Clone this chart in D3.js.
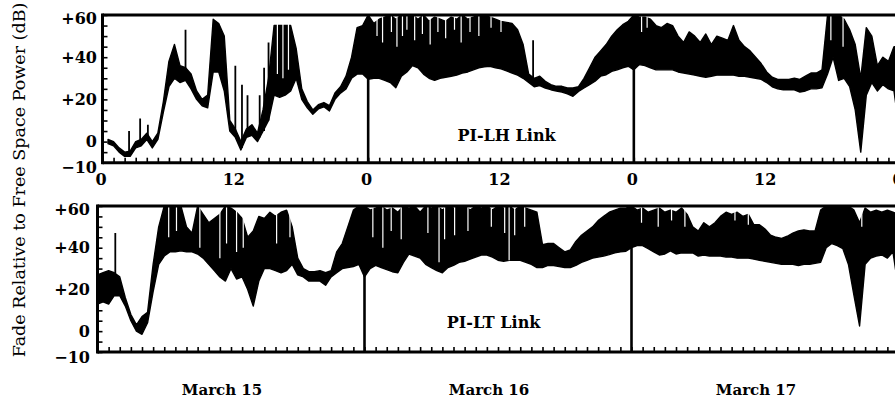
<!DOCTYPE html>
<html>
<head>
<meta charset="utf-8">
<script src="https://cdn.jsdelivr.net/npm/d3@7"></script>
<style>
  body { margin: 0; background: #fff; }
  svg { display: block; }
  text { font-family: "DejaVu Serif", "Liberation Serif", serif; fill: #000; }
</style>
</head>
<body>
<div id="chart"></div>
<script>
// time axis: samples every half hour, 0..72 h (March 15 00:00 -> March 18 00:00)
var STEP = 0.5;
var hours = d3.range(0, 72 + STEP / 2, STEP);
var dayBreaks = [24, 48];
var hourLabels = [0, 12, 24, 36, 48, 60, 72];
var dbTicks = d3.range(-10, 61, 5);
var dbLabels = [-10, 0, 20, 40, 60];
var dayNames = ["March 15", "March 16", "March 17"];

// PI-LH link, lower / upper envelope of the fade trace (dB)
var lhLow15 = [null, -1, -2, -5, -7, -7, -3, -2, 1, -3, 1, 14, 26, 30, 28, 29, 25, 20, 17, 16, 33, 33, 24, 5, 2, -4, 2, 3, 0, 5, 10, 22, 21, 22, 24, 30, 20, 16, 13, 15.5, 16.5, 14.5, 20, 23, 25, 30, 32, 32];
var lhHigh15 = [null, 1, 0, -3, -5, -4.5, 0, 1, 4, 0, 4, 19, 38, 46, 36, 35, 32, 24, 20, 22, 58, 56, 50, 10, 6, 0, 6, 8, 4, 15, 30, 55, 55, 55, 55, 44, 25, 19, 15, 17.5, 18.5, 17, 23, 26, 31, 40, 54, 55];
var lhLow16 = [29.5, 30, 30, 29, 28, 25.5, 31, 33, 36, 35, 32, 30, 29, 30, 30.5, 31, 31.5, 32.5, 33, 34, 35, 35.5, 35.7, 35, 34.5, 33.5, 32.5, 31.5, 30, 28, 26, 26.5, 25.4, 24.6, 24, 23.5, 22.6, 21.5, 23.8, 25.4, 27, 28.6, 31, 31.7, 33.3, 34, 35, 35.7];
var lhHigh16 = [60, 56, 58, 59, 60, 58, 60, 59, 60, 58, 60, 57, 59, 58, 57, 59, 58, 60, 58, 59, 60, 60, 59, 58, 57, 56.5, 56, 53, 46, 32, 30, 31, 28.6, 27, 26.2, 26.2, 25.4, 25.4, 26, 30, 35, 40, 43, 46, 50, 53, 55.4, 57];
var lhLow17 = [34, 36.5, 36, 35, 34, 34, 34, 34, 33, 32.5, 32, 31.5, 31, 30.5, 31, 31.5, 31.5, 31.5, 31.5, 31, 31, 30.5, 30, 29.5, 28, 26, 25, 24.5, 24.5, 24.5, 23.5, 24, 25, 25, 25.5, 32, 40, 29, 30, 26, 15, -5, 22, 28, 24, 27, 25, 24, 5];
var lhHigh17 = [60, 59, 59, 58, 55, 54, 56, 55, 50, 47, 52, 50, 47, 51, 46, 50, 49, 48, 55, 48, 45, 43, 40, 37, 33, 30.5, 29.5, 29.5, 29.5, 30, 29.5, 31, 32.5, 32.5, 34, 60, 60, 60, 58, 53, 46, 30, 54, 50, 36, 40, 38, 45, 45];
// isolated spikes [hour, from dB, to dB] and white dropouts inside the band
var lhSpikes = [[2.4, -6, 5], [3.4, -1, 11], [4.1, 1, 8], [7.5, 33, 53], [12.0, 4, 36], [12.6, -3, 27], [13.1, 3, 22], [14.2, 2, 22], [14.6, 5, 35], [15.0, 10, 47], [38.9, 28, 48]];
var lhGaps = [[15.8, 56, 32], [16.3, 56, 30], [16.8, 56, 34],
    [24.8, 60, 50], [25.3, 60, 47], [26.1, 60, 52], [26.6, 60, 45], [27.1, 60, 50], [27.5, 60, 53], [28.2, 60, 48], [28.9, 60, 51],
    [29.6, 60, 46], [30.3, 60, 52], [31.0, 60, 49], [31.8, 60, 53], [32.4, 60, 47], [33.2, 60, 52], [34.0, 60, 50], [35.1, 60, 54], [36.0, 60, 52],
    [48.7, 60, 52], [49.2, 60, 54], [65.8, 60, 48], [66.9, 60, 45]];

// PI-LT link
var ltLow15 = [13, 14, 13, 17, 17, 12, 5, 0, -1.5, 4, 19, 32, 36, 38, 38, 38.5, 38, 38, 37, 35, 32, 29, 26, 24, 30, 25, 26, 20, 12, 24, 30, 30, 29, 28, 29, 32, 27, 26, 24, 24, 24, 22, 26, 28, 30, 30.5, 31, 32];
var ltHigh15 = [27, 28, 29, 28, 26, 16, 8, 3, 7, 9, 32, 50, 60, 60, 60, 60, 50, 47, 60, 56, 52, 54, 56, 60, 59, 57, 54, 45, 48, 55, 54, 57, 55, 57, 58, 50, 35, 30, 28.5, 28.5, 29, 28, 29, 38, 42, 50, 58, 60];
var ltLow16 = [26, 30, 31.5, 30.5, 29.5, 28.5, 28, 33, 37, 36, 35, 32, 30.5, 29, 28, 30.5, 31.5, 33, 33.5, 34.5, 35.5, 36.5, 36.5, 35.5, 34, 33.5, 34, 34, 34, 33, 32, 30.5, 30.5, 31.5, 31.5, 31, 30.5, 30.5, 31.5, 33, 34, 35, 35.5, 36, 36.7, 37.5, 38, 38.3];
var ltHigh16 = [60, 58, 59, 60, 58, 59, 57, 60, 59, 60, 57, 60, 59, 60, 58, 60, 59, 60, 60, 58, 60, 59, 60, 58, 60, 59, 60, 58, 60, 59, 58, 57, 41.5, 42, 42, 40, 38, 39, 43, 46, 48, 50, 53, 55, 57, 58, 59, 59];
var ltLow17 = [40, 41, 41, 39.5, 38, 36.5, 37, 38.5, 37, 37.5, 37.5, 37.5, 36, 36.5, 36, 36, 36, 35.5, 35.5, 35, 35, 35, 34.5, 34, 33.5, 33, 32.5, 32, 32, 32, 31.5, 32, 32, 32.5, 33, 40, 42, 41, 39.5, 32, 17, 2.5, 32, 35, 36, 36.5, 35, 38, 20];
var ltHigh17 = [60, 58, 59, 57, 58, 59, 57, 58, 57, 59, 56, 50, 48, 52, 50, 52, 55, 57, 56, 57, 55, 56, 51, 51, 49, 46, 45, 44.5, 45.5, 47, 48, 48.5, 48, 48, 58, 60, 60, 60, 60, 60, 58, 52, 59, 57, 58, 57, 58, 57, 56];
var ltSpikes = [[1.6, 20, 47]];
var ltGaps = [[6.4, 60, 45], [7.1, 60, 48], [9.2, 60, 40], [11.0, 60, 35], [11.6, 60, 42], [12.5, 60, 38], [13.1, 60, 40], [16.1, 60, 42], [17.3, 60, 45],
    [24.75, 60, 45], [25.65, 60, 40], [26.4, 60, 48], [27.3, 60, 44], [29.7, 60, 47], [30.7, 60, 33], [31.2, 60, 44], [32.1, 60, 46],
    [33.3, 60, 48], [35.4, 60, 50], [36.6, 60, 47], [37.0, 60, 34], [37.5, 60, 46], [38.4, 60, 50],
    [48.9, 60, 52], [50.4, 60, 50], [51.6, 60, 53], [52.8, 60, 50], [57.3, 60, 53], [58.5, 60, 51], [68.7, 60, 50]];

var W = 895, H = 401;
var svg = d3.select("#chart").append("svg").attr("width", W).attr("height", H);

var panels = [
    { id: "lh", name: "PI-LH Link", lo: [].concat(lhLow15, lhLow16, lhLow17), hi: [].concat(lhHigh15, lhHigh16, lhHigh17),
      spikes: lhSpikes, gaps: lhGaps,
      left: 102.5, right: 899.5, top: 15, bottom: 162.7, labelRight: 97, hourAxis: true, nameAt: [36.5, 3] },
    { id: "lt", name: "PI-LT Link", lo: [].concat(ltLow15, ltLow16, ltLow17), hi: [].concat(ltHigh15, ltHigh16, ltHigh17),
      spikes: ltSpikes, gaps: ltGaps,
      left: 97.5, right: 898.5, top: 206, bottom: 352, labelRight: 90, hourAxis: false, nameAt: [35.6, 4.4] }
];

panels.forEach(function (p) {
    var x = d3.scaleLinear().domain([0, 72]).range([p.left, p.right]);
    var y = d3.scaleLinear().domain([-10, 60]).range([p.bottom, p.top]);
    var g = svg.append("g").attr("class", "panel-" + p.id);
    var clip = "url(#clip-" + p.id + ")";

    g.append("clipPath").attr("id", "clip-" + p.id)
        .append("rect").attr("x", p.left).attr("y", p.top).attr("width", W - p.left).attr("height", p.bottom - p.top);

    var band = d3.area()
        .defined(function (d, i) { return p.lo[i] != null; })
        .x(function (d) { return x(d); })
        .y0(function (d, i) { return y(p.lo[i]); })
        .y1(function (d, i) { return y(p.hi[i]); });

    g.append("path").datum(hours)
        .attr("d", band)
        .attr("clip-path", clip)
        .attr("fill", "#000").attr("stroke", "#000")
        .attr("stroke-width", 1.4).attr("stroke-linejoin", "round");

    g.append("g").attr("clip-path", clip)
        .selectAll("line").data(p.spikes).enter().append("line")
        .attr("x1", function (d) { return x(d[0]); }).attr("x2", function (d) { return x(d[0]); })
        .attr("y1", function (d) { return y(d[1]); }).attr("y2", function (d) { return y(d[2]); })
        .attr("stroke", "#000").attr("stroke-width", 1.8);

    // white dropouts in the saturated parts of the trace
    g.append("g").attr("clip-path", clip)
        .selectAll("line").data(p.gaps).enter().append("line")
        .attr("x1", function (d) { return x(d[0]); }).attr("x2", function (d) { return x(d[0]); })
        .attr("y1", function (d) { return y(d[1]); }).attr("y2", function (d) { return y(d[2]); })
        .attr("stroke", "#fff").attr("stroke-width", 1.2);

    // hourly ticks along the bottom, pointing inward
    var xt = g.append("g").attr("transform", "translate(0," + p.bottom + ")")
        .call(d3.axisBottom(x).tickValues(d3.range(0, 73, 1)).tickSize(-5).tickFormat(""));
    xt.select(".domain").remove();
    xt.selectAll("line").attr("stroke", "#000").attr("stroke-width", 1.6);

    // dB ticks on the left, pointing inward
    var yt = g.append("g").attr("transform", "translate(" + p.left + ",0)")
        .call(d3.axisLeft(y).tickValues(dbTicks).tickSize(-5).tickFormat(""));
    yt.select(".domain").remove();
    yt.selectAll("line").attr("stroke", "#000").attr("stroke-width", 1.6);

    // frame: top, left, bottom
    g.append("line").attr("x1", p.left).attr("x2", W + 5).attr("y1", p.top).attr("y2", p.top)
        .attr("stroke", "#000").attr("stroke-width", 3);
    g.append("line").attr("x1", p.left).attr("x2", p.left).attr("y1", p.top - 1.5).attr("y2", p.bottom + 1.5)
        .attr("stroke", "#000").attr("stroke-width", 3);
    g.append("line").attr("x1", p.left).attr("x2", W + 5).attr("y1", p.bottom).attr("y2", p.bottom)
        .attr("stroke", "#000").attr("stroke-width", 3);

    // midnight separators
    g.selectAll(".daybreak").data(dayBreaks).enter().append("line")
        .attr("x1", function (d) { return x(d); }).attr("x2", function (d) { return x(d); })
        .attr("y1", p.top).attr("y2", p.bottom)
        .attr("stroke", "#000").attr("stroke-width", 2.6);

    // dB labels
    g.selectAll(".dblabel").data(dbLabels).enter().append("text")
        .attr("x", p.labelRight)
        .attr("y", function (d) { return y(d) + (d == 60 ? 3 : d == -10 ? 5 : 0); })
        .attr("dy", "0.36em")
        .attr("text-anchor", "end")
        .style("font-size", "16px").style("font-weight", "bold")
        .text(function (d) { return d > 0 ? "+" + d : d < 0 ? "\u2212" + Math.abs(d) : "0"; });

    if (p.hourAxis) {
        g.selectAll(".hrlabel").data(hourLabels).enter().append("text")
            .attr("x", function (d) { return x(d) - 1.5; })
            .attr("y", p.bottom + 17)
            .attr("dy", "0.36em")
            .attr("text-anchor", "middle")
            .style("font-size", "16px").style("font-weight", "bold")
            .text(function (d) { return d % 24; });
    } else {
        g.selectAll(".day").data(dayNames).enter().append("text")
            .attr("x", function (d, i) { return x(i * 24 + 12) - 9; })
            .attr("y", 390)
            .attr("dy", "0.36em")
            .attr("text-anchor", "middle")
            .style("font-size", "15px").style("font-weight", "bold")
            .text(function (d) { return d; });
    }

    g.append("text")
        .attr("x", x(p.nameAt[0])).attr("y", y(p.nameAt[1]))
        .attr("dy", "0.36em").attr("text-anchor", "middle")
        .style("font-size", "16px").style("font-weight", "bold")
        .text(p.name);
});

var title = svg.append("text")
    .attr("transform", "translate(19,180) rotate(-90)")
    .attr("dy", "0.36em")
    .attr("text-anchor", "middle")
    .style("font-size", "15px")
    .text("Fade Relative to Free Space Power (dB)");
var len = title.node().getComputedTextLength();
title.style("font-size", (15 * 355 / len).toFixed(2) + "px");
</script>
</body>
</html>
